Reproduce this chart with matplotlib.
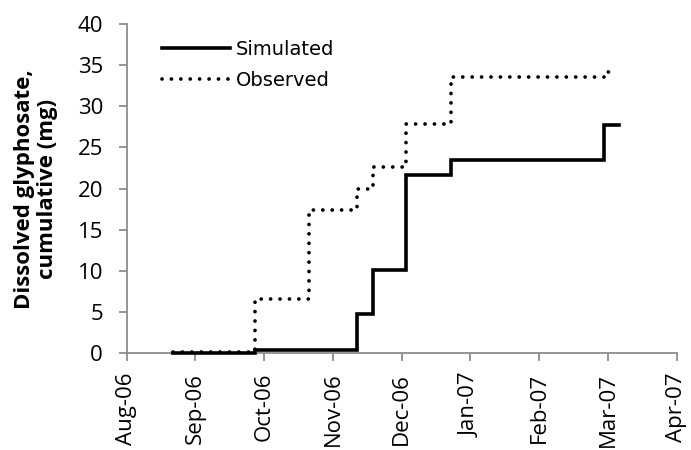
import datetime as dt

import matplotlib
matplotlib.use("Agg")
import matplotlib.pyplot as plt
import matplotlib.dates as mdates

plt.rcParams['font.family'] = ['Open Sans', 'DejaVu Sans']

# Step data (date of change, cumulative mg)
sim_dates = ["2006-08-22", "2006-09-28", "2006-11-13", "2006-11-20",
             "2006-12-05", "2006-12-25", "2007-03-04", "2007-03-11"]
sim_values = [0.0, 0.4, 4.8, 10.1, 21.6, 23.5, 27.7, 27.7]

obs_dates = ["2006-08-22", "2006-09-28", "2006-10-22", "2006-11-13",
             "2006-11-20", "2006-12-05", "2006-12-25", "2007-03-04", "2007-03-10"]
obs_values = [0.1, 6.6, 17.4, 19.9, 22.6, 27.9, 33.5, 34.2, 34.2]

axis_start = dt.date(2006, 8, 1)
axis_end = dt.date(2007, 4, 6)
tick_step_days = 31
y_ticks = [0, 5, 10, 15, 20, 25, 30, 35, 40]


def to_dates(values):
    return [dt.datetime.strptime(v, "%Y-%m-%d") for v in values]


fig = plt.figure(figsize=(6.91, 4.5), dpi=100)
ax = fig.add_axes([0.1834, 0.2149, 0.7959, 0.7318])

ax.plot(to_dates(sim_dates), sim_values, drawstyle='steps-post',
        color='black', linewidth=2.6, label='Simulated',
        solid_joinstyle='miter', clip_on=False, zorder=3)
ax.plot(to_dates(obs_dates), obs_values, drawstyle='steps-post',
        color='black', linewidth=2.7, linestyle=(0, (0.01, 2.5)),
        dash_capstyle='round', label='Observed', clip_on=False, zorder=4)

ax.set_xlim(axis_start, axis_end)
ax.set_ylim(0, 40)
ax.set_yticks(y_ticks)

x_ticks = [axis_start + dt.timedelta(days=tick_step_days * k) for k in range(9)]
ax.set_xticks(x_ticks)
ax.xaxis.set_major_formatter(mdates.DateFormatter('%b-%y'))
plt.setp(ax.get_xticklabels(), rotation=90)

for side in ['top', 'right']:
    ax.spines[side].set_visible(False)
for side in ['left', 'bottom']:
    ax.spines[side].set_color('#8c8c8c')
    ax.spines[side].set_linewidth(1.3)
ax.tick_params(axis='both', colors='#8c8c8c', labelcolor='black',
               labelsize=16, length=6, width=1.3, direction='out')
ax.tick_params(axis='x', pad=8)
ax.tick_params(axis='y', pad=11)

ax.set_ylabel('Dissolved glyphosate,\ncumulative (mg)', fontsize=16,
              fontweight='bold', linespacing=1.15, labelpad=14)

ax.legend(loc='upper left', bbox_to_anchor=(0.05, 0.975), frameon=False,
          prop={'family': 'DejaVu Sans', 'size': 14}, handlelength=3.5,
          handletextpad=0.3, labelspacing=0.6, borderaxespad=0.0)

fig.savefig('out.png', dpi=100)
